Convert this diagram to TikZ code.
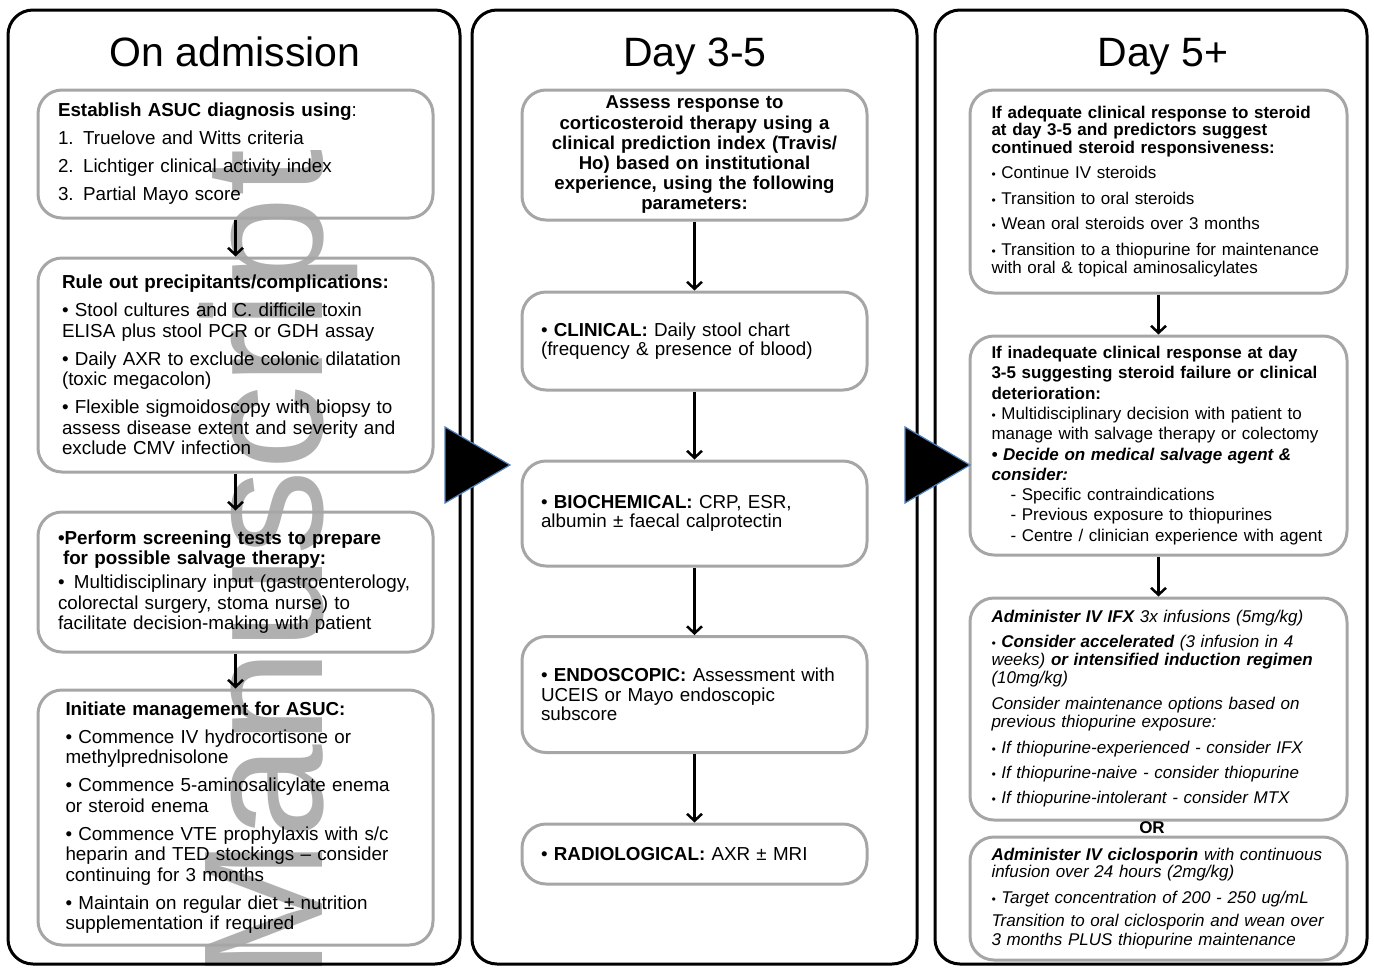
\documentclass[tikz,border=0pt]{standalone}
\usepackage{fontspec}
\setmainfont{Liberation Sans}
\usetikzlibrary{arrows.meta}
\definecolor{boxgray}{HTML}{A6A6A6}
\definecolor{tipblue}{HTML}{4F81BD}
\newcommand{\sdot}{{\fontsize{12}{12}\selectfont •}}

\begin{document}
\begin{tikzpicture}[x=1pt,y=-1pt,
  panel/.style={draw,line width=3pt,rounded corners=25pt,minimum height=954pt,inner sep=0pt},
  title/.style={font=\fontsize{41}{41}\selectfont,inner sep=0pt,anchor=base},
  stage/.style={draw=boxgray,line width=3pt,rounded corners=24pt,inner sep=0pt,align=left},
  colA/.style={stage,minimum width=395pt,font=\fontsize{18.8}{20.5}\selectfont},
  colB/.style={stage,minimum width=345pt,text width=307pt,font=\fontsize{18.8}{19.5}\selectfont},
  colC/.style={stage,minimum width=377pt,text width=334pt,font=\fontsize{17}{18.5}\selectfont},
  flow/.style={-{Straight Barb[length=7pt,width=15pt]},line width=2.5pt},
  bigtip/.style={fill=black,draw=tipblue,line width=1.2pt},
  wmark/.style={rotate=90,anchor=base west,inner sep=0pt,text=gray!62,font=\fontsize{170}{170}\selectfont}]

\useasboundingbox (0,0) rectangle (1374,967);

% ---- watermark, behind everything ---------------------------------------
\node[wmark] (wm) at (322,981) {Manuscript};

% ---- the three time frames ----------------------------------------------
\node[panel,minimum width=452pt] (p1) at (234,487)   {};
\node[panel,minimum width=445pt] (p2) at (694.5,487) {};
\node[panel,minimum width=432pt] (p3) at (1151,487)  {};
\node[title] (t1) at (235,66)  {On admission};
\node[title] (t2) at (695,66)  {Day 3-5};
\node[title] (t3) at (1163,66) {Day 5+};

% ---- on admission -------------------------------------------------------
\node[colA,text width=355pt,minimum height=128pt] (b1) at (235.5,154)
  {\textbf{Establish ASUC diagnosis using}:\\[7.5pt]
   1. Truelove and Witts criteria\\[7.5pt]
   2. Lichtiger clinical activity index\\[7.5pt]
   3. Partial Mayo score};
\node[colA,text width=347pt,minimum height=214pt] (b2) at (235.5,365)
  {\textbf{Rule out precipitants/complications:}\\[7.5pt]
   • Stool cultures and C. difficile toxin\\
   ELISA plus stool PCR or GDH assay\\[7.5pt]
   • Daily AXR to exclude colonic dilatation\\
   (toxic megacolon)\\[7.5pt]
   • Flexible sigmoidoscopy with biopsy to\\
   assess disease extent and severity and\\
   exclude CMV infection};
\node[colA,text width=355pt,minimum height=140pt] (b3) at (235.5,582)
  {\textbf{•Perform screening tests to prepare}\\
   \hspace*{5pt}\textbf{for possible salvage therapy:}\\[3.5pt]
   •\, Multidisciplinary input (gastroenterology,\\
   colorectal surgery, stoma nurse) to\\
   facilitate decision-making with patient};
\node[colA,text width=340pt,minimum height=255pt] (b4) at (235.5,817.5)
  {\textbf{Initiate management for ASUC:}\\[7.5pt]
   • Commence IV hydrocortisone or\\
   methylprednisolone\\[7.5pt]
   • Commence 5-aminosalicylate enema\\
   or steroid enema\\[7.5pt]
   • Commence VTE prophylaxis with s/c\\
   heparin and TED stockings – consider\\
   continuing for 3 months\\[7.5pt]
   • Maintain on regular diet ± nutrition\\
   supplementation if required};

% ---- day 3-5 ------------------------------------------------------------
\node[colB,align=center,minimum height=130pt,font=\fontsize{18.6}{20.2}\selectfont\bfseries] (c1) at (694.5,155)
  {Assess response to\\
   corticosteroid therapy using a\\
   clinical prediction index (Travis/\\
   Ho) based on institutional\\
   experience, using the following\\
   parameters:};
\node[colB,minimum height=98pt]  (c2) at (694.5,341)
  {• \textbf{CLINICAL:} Daily stool chart\\(frequency \& presence of blood)};
\node[colB,minimum height=105pt] (c3) at (694.5,513.5)
  {• \textbf{BIOCHEMICAL:} CRP, ESR,\\albumin ± faecal calprotectin};
\node[colB,minimum height=116pt] (c4) at (694.5,694.5)
  {• \textbf{ENDOSCOPIC:} Assessment with\\UCEIS or Mayo endoscopic\\subscore};
\node[colB,minimum height=60pt]  (c5) at (694.5,854)
  {• \textbf{RADIOLOGICAL:} AXR ± MRI};

% ---- day 5+ -------------------------------------------------------------
\node[colC,minimum height=203pt] (d1) at (1158.5,191.5)
  {\textbf{If adequate clinical response to steroid\\[-1pt]
   at day 3-5 and predictors suggest\\[-1pt]
   continued steroid responsiveness:}\\[7pt]
   \sdot\ Continue IV steroids\\[7pt]
   \sdot\ Transition to oral steroids\\[7pt]
   \sdot\ Wean oral steroids over 3 months\\[7pt]
   \sdot\ Transition to a thiopurine for maintenance\\
   with oral \& topical aminosalicylates};
\node[colC,minimum height=219pt,font=\fontsize{17}{20.3}\selectfont] (d2) at (1158.5,445.5)
  {\textbf{If inadequate clinical response at day\\
   3-5 suggesting steroid failure or clinical\\
   deterioration:}\\
   \sdot\ Multidisciplinary decision with patient to\\
   manage with salvage therapy or colectomy\\
   {\bfseries\itshape • Decide on medical salvage agent \&\\
   consider:}\\
   \hspace*{19pt}- Specific contraindications\\
   \hspace*{19pt}- Previous exposure to thiopurines\\
   \hspace*{19pt}- Centre / clinician experience with agent};
\node[colC,minimum height=222pt,font=\fontsize{17}{18}\selectfont\itshape] (d3) at (1158.5,709)
  {\textbf{Administer IV IFX} 3x infusions (5mg/kg)\\[7pt]
   \sdot\ \textbf{Consider accelerated} (3 infusion in 4\\
   weeks) \textbf{or intensified induction regimen}\\
   (10mg/kg)\\[8pt]
   Consider maintenance options based on\\
   previous thiopurine exposure:\\[8pt]
   \sdot\ If thiopurine-experienced - consider IFX\\[7pt]
   \sdot\ If thiopurine-naive - consider thiopurine\\[7pt]
   \sdot\ If thiopurine-intolerant - consider MTX};
\node[font=\fontsize{17}{17}\selectfont\bfseries,inner sep=0pt] (or) at (1152,828) {OR};
\node[colC,minimum height=123pt,font=\fontsize{17}{18}\selectfont\itshape] (d4) at (1158.5,898.5)
  {\textbf{Administer IV ciclosporin} with continuous\\[-1pt]
   infusion over 24 hours (2mg/kg)\\[8pt]
   \sdot\ Target concentration of 200 - 250 ug/mL\\[5pt]
   Transition to oral ciclosporin and wean over\\[1pt]
   3 months PLUS thiopurine maintenance};

% ---- the order ----------------------------------------------------------
\draw[flow] (b1) -- (b2);
\draw[flow] (b2) -- (b3);
\draw[flow] (b3) -- (b4);
\draw[flow] (c1) -- (c2);
\draw[flow] (c2) -- (c3);
\draw[flow] (c3) -- (c4);
\draw[flow] (c4) -- (c5);
\draw[flow] (d1) -- (d2);
\draw[flow] (d2) -- (d3);

% ---- from one time frame to the next ------------------------------------
\coordinate (go1) at (510,465);
\coordinate (go2) at (970,465);
\filldraw[bigtip] (go1) -- ++(-65,-38) -- ++(0,76) -- cycle;
\filldraw[bigtip] (go2) -- ++(-65,-38) -- ++(0,76) -- cycle;
\end{tikzpicture}
\end{document}
